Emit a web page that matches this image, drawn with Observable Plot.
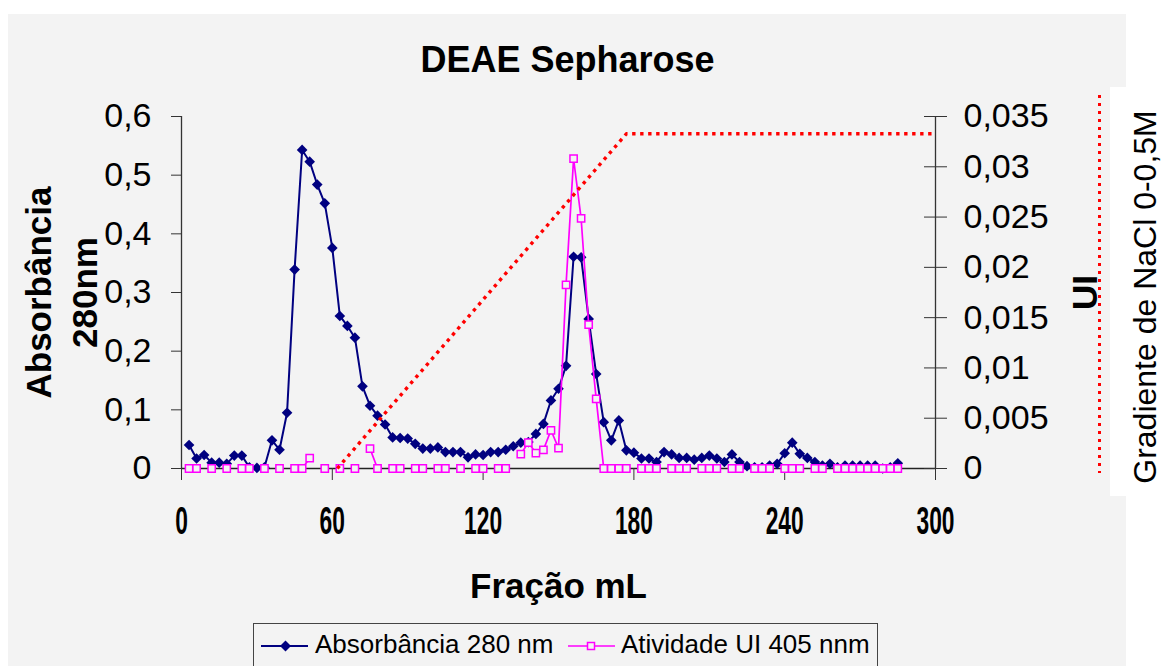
<!DOCTYPE html>
<html>
<head>
<meta charset="utf-8">
<script src="https://cdn.jsdelivr.net/npm/d3@7"></script>
<script src="https://cdn.jsdelivr.net/npm/@observablehq/plot@0.6"></script>
<style>
  html, body { margin: 0; padding: 0; background: #fff; }
  #wrap { position: relative; width: 1164px; height: 666px; overflow: hidden; background: #fff;
          font-family: "Liberation Sans", Arial, sans-serif; color: #000; }
  #panel { position: absolute; left: 8px; top: 14px; width: 1118px; height: 652px; background: #f3f3f3; }
  #gbox { position: absolute; left: 1110px; top: 87px; width: 54px; height: 409px; background: #fff; }
  #gline { position: absolute; left: 1098px; top: 95px; width: 3.4px; height: 378px;
           background: repeating-linear-gradient(to bottom, #ff0000 0 3.4px, transparent 3.4px 8px); }
  #glabel { position: absolute; left: 1144.5px; top: 297px; transform: translate(-50%, -50%) rotate(-90deg);
            white-space: nowrap; font-size: 32px; line-height: 32px; }
  #title { position: absolute; left: 0; width: 1135px; top: 41.5px; text-align: center;
           font-size: 36px; line-height: 36px; font-weight: bold; }
  #chart { position: absolute; left: 0; top: 0; }
  #legend { position: absolute; left: 253px; top: 623px; width: 625px; height: 60px; box-sizing: border-box;
            border: 1.5px solid #444; background: #f3f3f3; }
  #legend .sw { position: absolute; top: 15px; }
  #legend .tx { position: absolute; top: 7px; font-size: 26px; line-height: 26px; white-space: nowrap; }
</style>
</head>
<body>
<div id="wrap">
  <div id="panel"></div>
  <div id="gbox"></div>
  <div id="gline"></div>
  <div id="glabel"></div>
  <div id="chart"></div>
  <div id="title"></div>
  <div id="legend"></div>
</div>
<script>
// ---- Data ----
const titulo = "DEAE Sepharose";
const xTitulo = "Fração mL";
const yTituloEsq = "Absorbância\n280nm";
const yTituloDir = "UI";
const gradTitulo = "Gradiente de NaCl 0-0,5M";
const serieAbs = "Absorbância 280 nm";
const serieUI = "Atividade UI 405 nnm";

const xTicks = [0, 60, 120, 180, 240, 300];
const yTicksEsq = [0, 0.1, 0.2, 0.3, 0.4, 0.5, 0.6];
const yTicksDir = [0, 0.005, 0.01, 0.015, 0.02, 0.025, 0.03, 0.035];

// Fractions (mL) and absorbance at 280 nm
const fracao = [3, 6, 9, 12, 15, 18, 21, 24, 27, 30, 33, 36, 39, 42, 45, 48, 51, 54, 57, 60,
  63, 66, 69, 72, 75, 78, 81, 84, 87, 90, 93, 96, 99, 102, 105, 108, 111, 114, 117, 120,
  123, 126, 129, 132, 135, 138, 141, 144, 147, 150, 153, 156, 159, 162, 165, 168, 171, 174, 177, 180,
  183, 186, 189, 192, 195, 198, 201, 204, 207, 210, 213, 216, 219, 222, 225, 228, 231, 234, 237, 240,
  243, 246, 249, 252, 255, 258, 261, 264, 267, 270, 273, 276, 279, 282, 285];
const absorbancia = [0.040, 0.017, 0.023, 0.010, 0.010, 0.008, 0.022, 0.022, 0.002, 0.001,
  0.002, 0.048, 0.032, 0.095, 0.339, 0.543, 0.523, 0.484, 0.452, 0.376,
  0.260, 0.243, 0.223, 0.140, 0.107, 0.090, 0.075, 0.053, 0.052, 0.051,
  0.042, 0.034, 0.034, 0.036, 0.028, 0.028, 0.028, 0.019, 0.024, 0.023,
  0.028, 0.028, 0.032, 0.038, 0.044, 0.045, 0.059, 0.076, 0.116, 0.136,
  0.175, 0.361, 0.360, 0.255, 0.161, 0.079, 0.048, 0.082, 0.031, 0.027,
  0.017, 0.017, 0.011, 0.028, 0.024, 0.018, 0.018, 0.015, 0.018, 0.022,
  0.017, 0.011, 0.024, 0.011, 0.004, 0.002, 0.002, 0.005, 0.008, 0.026,
  0.044, 0.025, 0.018, 0.011, 0.005, 0.008, 0.002, 0.005, 0.005, 0.005,
  0.005, 0.005, 0.000, 0.002, 0.009];

// Enzyme activity (UI, 405 nm) — only measured fractions
const fracaoUI = [3, 6, 12, 18, 24, 27, 33, 39, 45, 48, 51, 57, 63, 69, 75, 78, 84, 87, 93, 96,
  102, 105, 111, 117, 120, 126, 129, 135, 138, 141, 144, 147, 150, 153, 156, 159, 162, 165,
  168, 171, 174, 177, 183, 186, 189, 195, 198, 201, 207, 210, 213, 219, 222, 228, 231, 234,
  240, 243, 246, 252, 255, 261, 264, 267, 270, 273, 276, 279, 282, 285];
const atividadeUI = [0, 0, 0, 0, 0, 0, 0, 0, 0, 0, 0.00103, 0, 0, 0, 0.00198, 0, 0, 0, 0, 0,
  0, 0, 0, 0, 0, 0, 0, 0.00143, 0.00258, 0.00153, 0.00185, 0.0038, 0.00202, 0.01826, 0.0308, 0.02486, 0.0143, 0.00693,
  0, 0, 0, 0, 0, 0, 0, 0, 0, 0, 0, 0, 0, 0, 0, 0, 0, 0,
  0, 0, 0, 0, 0, 0, 0, 0, 0, 0, 0, 0, 0, 0];

// NaCl gradient (M)
const gradFracao = [62, 177, 300];
const gradNaCl = [0, 0.5, 0.5];

// ---- Scale links (right axis & gradient drawn on the absorbance axis) ----
const kUI = 0.6 / 0.035;      // UI -> absorbance axis units
const kNaCl = 0.5705 / 0.5;   // M -> absorbance axis units

const absTable = fracao.map((x, i) => ({x, y: absorbancia[i]}));
const uiMap = new Map(fracaoUI.map((x, i) => [x, atividadeUI[i]]));
const uiTable = fracao.map(x => ({x, ui: uiMap.has(x) ? uiMap.get(x) : NaN}));
const gradTable = gradFracao.map((x, i) => ({x, m: gradNaCl[i]}));

const fmtC = v => String(v).replace(".", ",");

const W = 1164, H = 610;
const fLeft = 181, fRight = 935, fTop = 116, fBottom = 468;

const chart = Plot.plot({
  width: W, height: H,
  marginLeft: fLeft, marginRight: W - fRight, marginTop: fTop, marginBottom: H - fBottom,
  x: {domain: [0, 300]},
  y: {domain: [0, 0.6]},
  style: {background: "transparent", fontFamily: "Liberation Sans, Arial, sans-serif", color: "#000", overflow: "visible"},
  marks: [
    Plot.ruleX([0], {stroke: "#333", strokeWidth: 1.3}),
    Plot.ruleX([300], {stroke: "#333", strokeWidth: 1.3}),
    Plot.ruleY([0], {stroke: "#222", strokeWidth: 1.3}),
    Plot.axisY(yTicksEsq, {anchor: "left", tickSize: 10, tickPadding: 20, fontSize: 34, label: null,
      tickFormat: fmtC, stroke: "#333"}),
    Plot.axisY(yTicksDir.map(u => u * kUI), {anchor: "right", tickSize: 11, tickPadding: 17, fontSize: 34, label: null,
      tickFormat: v => fmtC(Math.round(v / kUI * 1000) / 1000), stroke: "#333"}),
    Plot.tickY(yTicksDir, {y: u => u * kUI, insetLeft: (fRight - fLeft) - 11, stroke: "#333", strokeWidth: 1}),
    Plot.axisX(xTicks, {anchor: "bottom", tickSize: 12, tickPadding: 27, fontSize: 38, fontWeight: "bold", label: null,
      stroke: "#333"}),
    Plot.text([xTitulo], {frameAnchor: "bottom", dy: 118, fontSize: 35, fontWeight: "bold", lineAnchor: "middle", fill: "#000"}),
    Plot.text([yTituloEsq], {frameAnchor: "left", rotate: -90, dx: -122, fontSize: 35, fontWeight: "bold",
      lineAnchor: "middle", textAnchor: "middle", lineHeight: 1.29, fill: "#000"}),
    Plot.text([yTituloDir], {frameAnchor: "right", rotate: -90, dx: 150.5, fontSize: 35, fontWeight: "bold",
      lineAnchor: "middle", textAnchor: "middle", fill: "#000"}),
    Plot.line(absTable, {x: "x", y: "y", stroke: "#000080", strokeWidth: 2}),
    Plot.dot(absTable, {x: "x", y: "y", symbol: "diamond2", r: 4.8, fill: "#000080", stroke: "none"}),
    Plot.line(uiTable, {x: "x", y: d => d.ui * kUI, stroke: "#ff00ff", strokeWidth: 1.7}),
    Plot.dot(uiTable, {x: "x", y: d => d.ui * kUI, symbol: "square", r: 4.1, fill: "#f3f3f3", stroke: "#ff00ff", strokeWidth: 1.5}),
    Plot.line(gradTable, {x: "x", y: d => d.m * kNaCl, stroke: "#ff0000", strokeWidth: 3.4,
      strokeDasharray: "3.4 4.6", strokeLinecap: "butt"})
  ]
});
document.getElementById("chart").appendChild(chart);

// condensed bold x tick labels
chart.querySelectorAll('g[aria-label="x-axis tick label"] text').forEach(t => {
  const tr = t.getAttribute("transform") || "";
  t.setAttribute("transform", tr + " scale(0.6,1)");
});

document.getElementById("title").textContent = titulo;
document.getElementById("glabel").textContent = gradTitulo;

// legend
const leg = document.getElementById("legend");
leg.innerHTML = `
  <svg class="sw" style="left:7px" width="47" height="14"><line x1="0" y1="7" x2="47" y2="7" stroke="#000080" stroke-width="2"/><path d="M24.5,1.5L30,7L24.5,12.5L19,7Z" fill="#000080"/></svg>
  <span class="tx" style="left:61px"></span>
  <svg class="sw" style="left:314px" width="47" height="14"><line x1="0" y1="7" x2="47" y2="7" stroke="#ff00ff" stroke-width="1.7"/><rect x="19.5" y="3.5" width="7" height="7" fill="#f3f3f3" stroke="#ff00ff" stroke-width="1.5"/></svg>
  <span class="tx" style="left:367px"></span>`;
const txs = leg.querySelectorAll(".tx");
txs[0].textContent = serieAbs;
txs[1].textContent = serieUI;
</script>
</body>
</html>
